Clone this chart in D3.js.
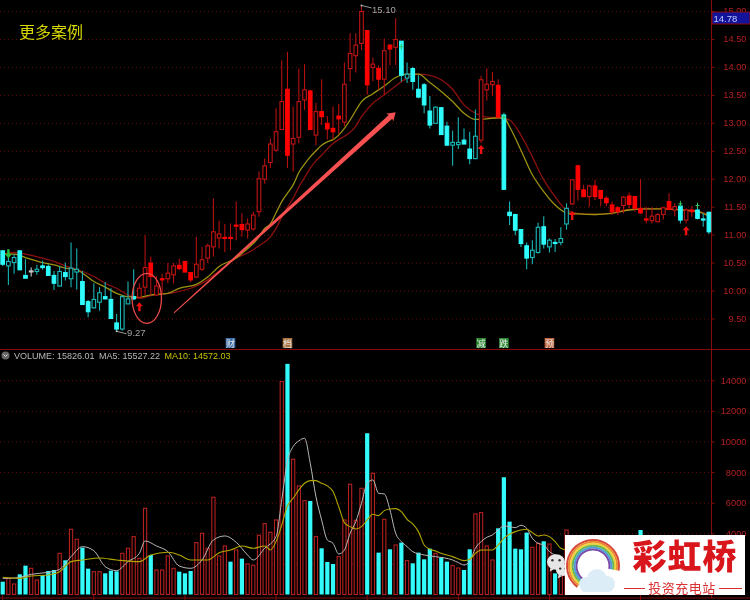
<!DOCTYPE html>
<html><head><meta charset="utf-8">
<script src="https://cdn.jsdelivr.net/npm/d3@7/dist/d3.min.js"></script>
<style>
html,body{margin:0;padding:0;background:#000;overflow:hidden}
svg{display:block;filter:blur(0.25px)}
text{font-family:"Liberation Sans",Arial,sans-serif}
</style></head><body>
<script>
const open = [10.71,10.44,10.50,10.71,10.27,10.34,10.34,10.44,10.43,10.27,
10.08,10.32,10.21,10.33,10.16,9.80,9.69,9.79,9.89,9.84,
9.42,9.31,9.76,9.89,9.88,10.06,10.49,9.92,10.21,10.21,
10.28,10.45,10.52,10.32,10.24,10.38,10.58,10.78,10.94,10.95,
10.95,11.17,11.18,11.08,11.10,11.41,11.99,12.29,12.51,12.88,
13.60,12.62,12.74,13.41,13.57,12.78,13.20,12.99,12.90,13.12,
13.01,13.97,14.20,14.42,14.65,13.99,13.97,13.78,14.39,14.35,
14.46,13.80,13.97,13.60,13.68,13.21,12.99,13.27,12.94,12.60,
12.61,12.69,12.53,12.36,12.69,13.59,13.68,13.67,13.14,11.40,
11.36,11.09,10.80,10.59,10.68,11.14,10.78,10.86,10.86,11.19,
11.55,12.23,11.80,11.68,11.87,11.79,11.65,11.53,11.48,11.52,
11.69,11.68,11.47,11.28,11.25,11.23,11.36,11.59,11.44,11.51,
11.26,11.44,11.44,11.28,11.40];
const close = [10.47,10.52,10.59,10.37,10.22,10.35,10.38,10.41,10.27,10.13,
10.34,10.25,10.40,10.38,9.75,9.62,9.84,9.96,9.85,9.50,
9.31,9.89,9.85,9.85,10.04,10.41,10.25,10.08,10.19,10.31,
10.44,10.39,10.33,10.19,10.47,10.55,10.80,11.05,11.01,10.93,
10.93,11.15,11.09,11.19,11.35,12.00,12.23,12.62,12.84,13.38,
12.42,12.72,13.38,13.59,12.88,13.20,13.11,12.89,12.84,13.07,
13.69,14.24,14.39,14.99,13.68,14.05,13.78,14.29,14.32,14.49,
13.85,13.87,13.74,13.46,13.32,12.96,13.28,12.79,12.60,12.65,
12.65,12.62,12.36,12.76,13.77,13.69,13.74,13.10,11.81,11.34,
11.08,10.84,10.58,10.72,11.13,10.83,10.90,10.84,10.93,11.47,
11.98,11.81,11.68,11.87,11.68,11.65,11.57,11.41,11.41,11.67,
11.54,11.47,11.39,11.26,11.33,11.36,11.48,11.45,11.50,11.26,
11.44,11.41,11.29,11.26,11.05];
const high = [10.72,10.69,10.65,10.71,10.56,10.41,10.46,10.53,10.47,10.35,
10.44,10.50,10.86,10.75,10.35,9.83,10.13,10.06,10.15,10.04,
9.58,9.92,10.16,10.38,10.13,10.99,10.61,10.26,10.30,10.49,
10.49,10.57,10.52,10.32,10.96,10.78,10.84,11.65,11.25,11.19,
11.20,11.59,11.38,11.29,11.41,12.13,12.36,12.72,13.26,14.12,
14.27,13.29,13.97,14.05,13.59,13.36,13.78,13.12,13.29,13.34,
14.08,14.60,14.60,15.10,14.65,14.17,14.03,14.51,14.41,14.87,
14.46,14.08,14.00,13.85,13.71,13.48,13.29,13.28,13.02,12.86,
13.10,12.90,12.84,13.24,13.84,13.97,13.91,13.78,13.18,11.59,
11.36,11.09,10.86,10.90,11.21,11.33,10.93,10.92,11.13,11.56,
11.98,12.25,11.89,11.89,11.98,11.79,11.69,11.59,11.51,11.69,
11.75,11.68,11.99,11.50,11.49,11.38,11.50,11.74,11.56,11.56,
11.47,11.51,11.52,11.38,11.40];
const low = [10.44,10.10,10.30,10.37,10.22,10.25,10.28,10.37,10.26,10.01,
10.07,10.18,10.06,10.02,9.74,9.52,9.68,9.64,9.84,9.50,
9.27,9.28,9.76,9.83,9.86,9.92,9.92,9.92,9.92,10.13,
10.13,10.37,10.33,10.15,10.22,10.35,10.49,10.61,10.75,10.69,
10.72,10.90,10.96,10.93,11.07,11.32,11.91,12.19,12.48,12.87,
12.19,12.13,12.63,13.23,12.87,12.60,12.96,12.70,12.70,12.78,
12.94,13.74,13.90,14.30,13.50,13.74,13.59,13.50,14.03,14.03,
13.74,13.71,13.59,13.44,13.17,12.90,12.98,12.78,12.60,12.23,
12.53,12.62,12.26,12.35,12.64,13.40,13.48,13.10,11.81,11.17,
10.99,10.78,10.38,10.47,10.66,10.75,10.68,10.69,10.81,11.09,
11.53,11.61,11.67,11.50,11.62,11.51,11.51,11.35,11.35,11.38,
11.47,11.41,11.37,11.20,11.20,11.22,11.27,11.43,11.33,11.20,
11.20,11.32,11.27,11.14,11.01];
const candleTone = ("cccccwcccccccccccccccccc"+"rrrrrrrrrrrrrrrrrrrrrrrrrrrrrrrrrrrrrrrrrrrrrr"+"cccccccccccccc"+"rrrr"+"cccccccccccc"+"rrrrrrrrrrrrrrrrrrr"+"c"+"rr"+"ccc").split("");

const volume = [839,1057,687,1319,1886,1711,948,1275,1537,1602,
2692,2235,4262,3608,3063,1690,1493,1493,1384,1559,
1515,2692,3019,3782,2365,5635,2583,1602,1602,2518,
1711,1493,1384,1537,3390,4000,3019,6355,2518,3172,
2147,2910,2343,1995,1908,3869,4633,4066,4872,13919,
15075,8840,7096,6137,6115,3782,3019,2126,1995,2474,
4872,7205,4850,6943,10540,7924,2736,4916,2954,3237,
3390,2213,2038,2736,2300,2998,2692,2409,2147,1886,
1733,1602,2954,5265,5352,3172,2256,4327,7663,4763,
2998,2954,4044,3085,3346,3477,3300,1384,2256,4218,
3400,3100,2600,2400,2700,2300,2100,2600,2000,2300,
2500,2400,4215,2700,2000,1800,2100,2900,2000,3000,
2200,1700,2400,1600,3500];
const volumeTone = ("crrccrrccc"+"rcrrccrrcc"+"crrrrrcrrr"+"rcccrrrrrr"+"crcrrrrrrr"+
 "crrrcrcccr"+"rrrrcrcrcr"+"crccccrccr"+"rccrrrrccc"+"cccrrcrcrr"+
 "rrrrrrrrrr"+"rrcrrrrrrr"+"crrcc").split("");

const maFastDays = [0,2,4,7,9,11,13,16,18,20,22,24,26,29,31,34,36,38,41,43,44,45,46,47,48,49,50,51,52,53,54,55,56,57,58,59,60,61,62,63,65,67,69,71,73,75,77,79,81,83,85,87,88,89,91,93,95,97,99,101,104,107,110,113,116,119,122,124];
const maFast = [10.65,10.65,10.59,10.50,10.46,10.40,10.37,10.16,10.06,9.95,9.89,9.88,9.92,9.95,10.04,10.11,10.24,10.43,10.58,10.75,10.84,10.96,11.11,11.19,11.39,11.59,11.74,11.89,12.11,12.26,12.39,12.50,12.60,12.66,12.70,12.78,12.90,13.05,13.22,13.38,13.52,13.66,13.81,13.87,13.87,13.72,13.56,13.38,13.17,13.06,13.07,13.09,13.09,12.93,12.51,12.07,11.77,11.53,11.39,11.37,11.36,11.38,11.44,11.46,11.46,11.44,11.41,11.33];
const maSlowDays = [0,2,4,7,9,11,13,16,18,20,22,24,26,30,33,36,38,41,43,45,47,48,49,50,51,52,53,54,55,56,57,58,59,60,61,62,63,64,65,67,69,71,73,75,77,79,81,83,85,87,89,91,93,95,97,99,101,104,107,110,113,116,119,122,124];
const maSlow = [10.65,10.68,10.65,10.58,10.52,10.44,10.38,10.25,10.13,10.04,9.92,9.86,9.91,9.96,10.04,10.19,10.35,10.58,10.67,10.80,10.96,11.11,11.31,11.49,11.65,11.85,12.02,12.19,12.32,12.42,12.53,12.63,12.70,12.76,12.83,12.94,13.11,13.24,13.35,13.50,13.66,13.80,13.87,13.85,13.77,13.60,13.32,13.17,13.10,13.09,13.05,12.78,12.39,11.98,11.68,11.44,11.38,11.36,11.39,11.45,11.46,11.46,11.45,11.42,11.36];

const vol5Days = [0,1,3,5,8,10,12,14,16,18,20,22,24,25,27,29,31,33,35,37,39,41,43,44,46,48,49,50,51,52,53,54,55,56,57,58,59,60,61,62,63,64,65,66,67,68,69,70,71,72,74,76,79,80,81,82,83,84,85,86,87,88,89,90,91,92,93,94,95,96,97,98];
const vol5 = [1057,1057,1123,1319,1450,1646,2474,3128,2867,1820,1559,2147,2692,3499,3172,2801,1864,1711,2256,3564,3826,3412,2583,2256,3019,3782,6180,8740,9668,10039,10213,8578,6398,4872,3564,3346,2649,2910,4000,4763,5962,7270,7488,6616,6572,5526,4000,3455,3128,2801,2583,2474,2256,2081,1929,2147,3019,3455,3739,3891,4218,4480,4436,4370,4523,4327,3673,3346,3237,2801,2583,2365];
const vol10Days = [0,3,5,8,10,12,14,17,20,24,26,29,31,33,36,38,40,42,44,46,47,48,49,50,51,52,53,54,55,56,57,58,59,60,61,62,63,64,65,66,67,68,69,70,71,72,73,74,75,76,77,79,81,82,83,84,86,87,88,89,90,91,92,93,94,95,96,97,98,99];
const vol10 = [1123,1057,1210,1275,1493,2147,2256,2387,2256,2147,2583,2758,2583,2256,2256,2736,2910,3172,3019,3172,2910,3455,4545,5800,6289,6834,7270,7445,7445,7270,7096,6725,5744,4698,4436,4284,4436,4872,5243,5156,5483,5592,5614,5417,4916,4611,4109,3237,2954,2845,2692,2474,2213,2300,2692,2910,2910,3237,3673,3935,4109,4218,4262,4044,3826,3891,3782,3455,3019,2910];

const priceTicks = [9.5,10,10.5,11,11.5,12,12.5,13,13.5,14,14.5,15];
const volumeTicks = [2000,4000,6000,8000,10000,12000,14000];
const volumeTickLabels = [4000,6000,8000,10000,12000,14000];
const volumeHeader = ["VOLUME: 15826.01","MA5: 15527.22","MA10: 14572.03"];
const eventDays = [40,50,84,88,96];
const eventLabels = ["财","档","减","跌","预"];
const buyDays = [24,84,100,120], buyPrices = [9.72,12.53,11.35,11.08];
const tickDays = [70,88,119,122], tickPrices = [14.36,13.10,11.55,11.52];
const lastPrice = 14.78, highDay = 63, lowDay = 20;

const RED="#ff0000", CY="#2ffcfc", AX="#860c0c";
const svg=d3.select("body").append("svg").attr("width",750).attr("height",600);
const x=d3.scaleLinear().domain([0,124]).range([2.7,708.9]);
const y=d3.scaleLinear().domain([10,14]).range([290.5,66.9]);
const v=d3.scaleLinear().domain([0,14000]).range([594.5,380.3]);

// grid
const dot=(g,vals,s)=>g.selectAll("line").data(vals).join("line").attr("x1",0).attr("x2",712)
 .attr("y1",d=>s(d)+.5).attr("y2",d=>s(d)+.5).attr("stroke","#6a0c0c").attr("stroke-dasharray","1 3");
dot(svg.append("g"),priceTicks,y); dot(svg.append("g"),volumeTicks,v);

// separators
svg.append("line").attr("x1",0).attr("x2",750).attr("y1",349.5).attr("y2",349.5).attr("stroke",AX);
svg.append("line").attr("x1",0).attr("x2",750).attr("y1",598).attr("y2",598).attr("stroke",AX);
svg.append("g").selectAll("line").data(d3.range(0,124,16)).join("line").attr("x1",d=>x(d)).attr("x2",d=>x(d)).attr("y1",595).attr("y2",600).attr("stroke",AX);

// axes
const styleAxis=g=>{g.selectAll(".domain").attr("stroke",AX);g.selectAll(".tick line").attr("stroke",AX);
 g.selectAll("text").attr("fill","#b02020").attr("font-size",9.3).attr("font-family","Liberation Sans").attr("text-anchor","end").attr("x",35);};
svg.append("g").attr("transform","translate(711.5,0)")
 .call(d3.axisRight(y).tickValues(priceTicks).tickFormat(d3.format(".2f")).tickSize(3)).call(styleAxis)
 .select(".domain").attr("d","M0,0V349");
const volAxis=svg.append("g").attr("transform","translate(711.5,0)")
 .call(d3.axisRight(v).tickValues(volumeTickLabels).tickFormat(d3.format("d")).tickSize(3)).call(styleAxis);
volAxis.select(".domain").attr("d","M0,349V598");

// moving averages (price)
const line=(days,vals,sc)=>d3.line().x((_,i)=>x(days[i])).y(d=>sc(d)).curve(d3.curveMonotoneX)(vals);
svg.append("path").attr("d",line(maSlowDays,maSlow,y)).attr("fill","none").attr("stroke","#8c1010").attr("stroke-width",1.3);
svg.append("path").attr("d",line(maFastDays,maFast,y)).attr("fill","none").attr("stroke","#9a9210").attr("stroke-width",1.3);

// candles
const wick={r:"#b41010",c:"#18b4b4",w:"#cccccc"}, fillc={r:RED,c:CY,w:"#e0e0e0"}, hollow={r:"#c01414",c:"#1cb8b8",w:"#cccccc"};
const cg=svg.append("g");
const idx=d3.range(open.length);
cg.selectAll("line").data(idx).join("line").attr("x1",i=>x(i)).attr("x2",i=>x(i))
 .attr("y1",i=>y(high[i])).attr("y2",i=>y(low[i])).attr("stroke",i=>wick[candleTone[i]]).attr("stroke-width",1.1);
cg.selectAll("rect").data(idx).join("rect")
 .attr("x",i=>x(i)-1.8).attr("width",3.6)
 .attr("y",i=>y(Math.max(open[i],close[i])))
 .attr("height",i=>Math.max(1,Math.abs(y(open[i])-y(close[i]))))
 .attr("fill",i=>close[i]<open[i]?fillc[candleTone[i]]:"#000")
 .attr("stroke",i=>close[i]<open[i]?fillc[candleTone[i]]:hollow[candleTone[i]])
 .attr("stroke-width",1.1);

// trade markers
svg.append("g").selectAll("path").data(buyDays).join("path")
 .attr("transform",(d,i)=>`translate(${x(d)},${y(buyPrices[i])})`)
 .attr("d","M0,-4L3.5,0H1.2V5H-1.2V0H-3.5Z").attr("fill","#f01010");
svg.append("path").attr("transform",`translate(${x(1)},${y(10.65)})`).attr("d","M0,4L3.5,0H1.2V-5H-1.2V0H-3.5Z").attr("fill","#20c040");
svg.append("g").selectAll("path").data(tickDays).join("path")
 .attr("transform",(d,i)=>`translate(${x(d)},${y(tickPrices[i])})`)
 .attr("d","M0,-3V3M-2,0H2").attr("stroke","#30c860").attr("fill","none");

// annotations in data space
const arrowFrom=[30.08,9.60], arrowTo=[69,13.19];
const ax0=x(arrowFrom[0]),ay0=y(arrowFrom[1]),ax1=x(arrowTo[0]),ay1=y(arrowTo[1]);
const ang=Math.atan2(ay1-ay0,ax1-ax0), len=Math.hypot(ax1-ax0,ay1-ay0);
svg.append("path").attr("transform",`translate(${ax0},${ay0}) rotate(${ang*180/Math.PI})`)
 .attr("d",`M0,-.4L${len-7},-2.6L${len-8},-5.2L${len},0L${len-8},5.2L${len-7},2.6L0,.4Z`).attr("fill","#f85050");
svg.append("ellipse").attr("cx",x(25.3)).attr("cy",y(9.86)).attr("rx",14.7).attr("ry",25)
 .attr("fill","none").attr("stroke","#e84848").attr("stroke-width",1.3);

// extreme labels
const ext=(xx,yy,t,dy)=>{svg.append("path").attr("d",`M${xx},${yy}l10,2.5`).attr("stroke","#999").attr("fill","none");
 svg.append("circle").attr("cx",xx).attr("cy",yy).attr("r",1).attr("fill","#bbb");
 svg.append("text").attr("x",xx+10.5).attr("y",yy+dy).attr("font-size",9.5).attr("fill","#a4a4a4").text(t);};
ext(x(highDay),y(high[highDay]),"15.10",8);
ext(x(lowDay),y(low[lowDay]),"9.27",5);

// title
svg.append("text").attr("x",19).attr("y",38).attr("font-size",16).attr("fill","#d8d800").style("font-family","'Noto Sans CJK SC'").text("更多案例");

// last price box
svg.append("rect").attr("x",712).attr("y",12).attr("width",38).attr("height",12).attr("fill","#12129a").attr("stroke",AX);
svg.append("text").attr("x",713.5).attr("y",21.5).attr("font-size",9.5).attr("fill","#b8ccff").text(d3.format(".2f")(lastPrice));

// event chips
const chipColor=["#3c6ea8","#a8703c","#2c8c34","#2c8c34","#c0623a"];
const chips=svg.append("g");
chips.selectAll("rect").data(eventDays).join("rect").attr("x",d=>x(d)-4.8).attr("y",338).attr("width",9.6).attr("height",10).attr("fill",(d,i)=>chipColor[i]);
chips.selectAll("text").data(eventLabels).join("text").attr("x",(d,i)=>x(eventDays[i])).attr("y",346.5).attr("text-anchor","middle")
 .attr("font-size",9).attr("fill","#e8e8e8").style("font-family","'Noto Sans CJK SC'").text(d=>d);

// volume header
svg.append("circle").attr("cx",5.5).attr("cy",355.5).attr("r",4).attr("fill","#666");
svg.append("path").attr("d","M3.5,354.5l2,2l2,-2").attr("stroke","#ddd").attr("fill","none");
const hx=[14,99,164.5],hc=["#b8b8b8","#b8b8b8","#c8c000"];
svg.append("g").selectAll("text").data(volumeHeader).join("text").attr("x",(d,i)=>hx[i]).attr("y",359).attr("font-size",9).attr("fill",(d,i)=>hc[i]).text(d=>d);

// volume bars
svg.append("g").selectAll("rect").data(volume).join("rect")
 .attr("x",(d,i)=>x(i)-(volumeTone[i]=="c"?2.1:1.6)).attr("width",(d,i)=>volumeTone[i]=="c"?4.2:3.2)
 .attr("y",d=>v(d)).attr("height",d=>v(0)-v(d))
 .attr("fill",(d,i)=>volumeTone[i]=="c"?"#33fbfb":"#000")
 .attr("stroke",(d,i)=>volumeTone[i]=="c"?"none":"#b42020").attr("stroke-width",1.1);
svg.append("path").attr("d",line(vol5Days,vol5,v)).attr("fill","none").attr("stroke","#b8b8b8").attr("stroke-width",1);
svg.append("path").attr("d",line(vol10Days,vol10,v)).attr("fill","none").attr("stroke","#b0a600").attr("stroke-width",1.1);

// chat badge
const bubble=(cx,cy,r)=>{const g=svg.append("g");
 g.append("ellipse").attr("cx",cx).attr("cy",cy).attr("rx",r).attr("ry",r*.86).attr("fill","#e6e6e6");
 g.append("path").attr("d",`M${cx-r*.6},${cy+r*.6}l-1,4l4,-2z`).attr("fill","#e6e6e6");
 [-.4,.4].forEach(k=>g.append("circle").attr("cx",cx+k*r).attr("cy",cy-r*.2).attr("r",1.2).attr("fill","#333"));};
bubble(556,562,9); bubble(563,570,7);

// watermark
const logo=svg.append("g");
logo.append("rect").attr("x",565).attr("y",535).attr("width",180).attr("height",60).attr("fill","#fff");
const arc=d3.arc().startAngle(-2.5).endAngle(1.75);
const bands=["#d8463c","#ea8a34","#eed13c","#6cb84a","#4aa0d8","#7a4aa8"];
bands.forEach((c,i)=>logo.append("path").attr("transform","translate(593,566)")
 .attr("d",arc({innerRadius:25-i*1.9,outerRadius:27-i*1.9})).attr("fill",c));
[[586,584,7],[597,579,10],[607,584,8]].forEach(d=>logo.append("circle").attr("cx",d[0]).attr("cy",d[1]).attr("r",d[2]).attr("fill","#dcedf8"));
logo.append("rect").attr("x",581).attr("y",584).attr("width",31).attr("height",8).attr("rx",4).attr("fill","#dcedf8");
logo.append("text").attr("x",685).attr("y",569).attr("text-anchor","middle").attr("font-size",34).attr("font-weight",900)
 .attr("fill","#d8161c").attr("letter-spacing",1).style("font-family","'Noto Sans CJK SC'").text("彩虹桥");
logo.append("text").attr("x",682).attr("y",593).attr("text-anchor","middle").attr("font-size",13).attr("letter-spacing",.5)
 .attr("fill","#d83030").style("font-family","'Noto Sans CJK SC'").text("投资充电站");
[[624,645],[719,742]].forEach(d=>logo.append("line").attr("x1",d[0]).attr("x2",d[1]).attr("y1",588.5).attr("y2",588.5).attr("stroke","#d83030"));
</script></body></html>
